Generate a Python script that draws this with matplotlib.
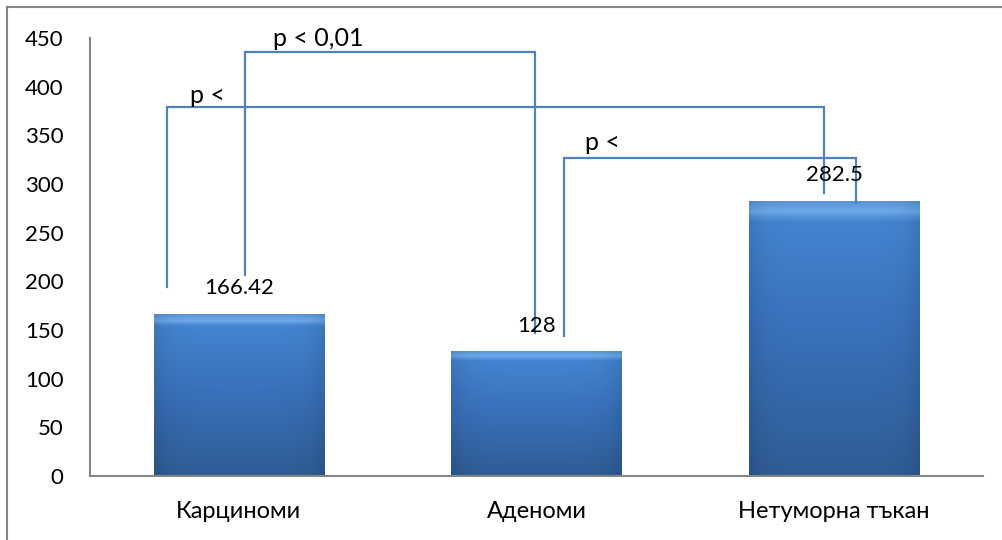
import numpy as np
import matplotlib
matplotlib.use("Agg")
import matplotlib.pyplot as plt
from matplotlib.colors import LinearSegmentedColormap
from matplotlib.lines import Line2D

plt.rcParams['font.family'] = ['Lato', 'Open Sans', 'DejaVu Sans']

# Data
categories = ["Карциноми", "Аденоми", "Нетуморна тъкан"]
values = [166.42, 128, 282.5]
value_labels = ["166.42", "128", "282.5"]
y_ticks = [0, 50, 100, 150, 200, 250, 300, 350, 400, 450]

# Significance brackets: (x_left, y_left_end, x_right, y_right_end, y_top, label, label_x, label_y)
brackets = [
    (-0.241, 194, 1.966, 291, 379, "p <", -0.107, 391),
    (0.021, 207, 0.995, 147, 435.5, "p < 0,01", 0.266, 450),
    (1.092, 144, 2.073, 280, 327, "p <", 1.223, 343),
]

W, H = 1003, 540
fig = plt.figure(figsize=(W / 100, H / 100), dpi=100)
ax = fig.add_axes([90 / W, (H - 476) / H, (983 - 90) / W, (476 - 38) / H])

axis_grey = "#868686"
line_blue = "#4f81bd"

x = np.arange(len(categories))
bar_w = 0.572
bars = ax.bar(x, values, width=bar_w, color="#3b72bb", zorder=2, linewidth=0)

ax.set_xlim(-0.5, 2.5)
ax.set_ylim(0, 450)

# Gradient fill with a light bevel along the top edge of each bar
px_per_unit = (476 - 38) / 450.0
cmap = LinearSegmentedColormap.from_list(
    "barfill", [(0.0, "#2f5c96"), (0.55, "#3a72bb"), (0.93, "#4384d0"),
                (0.965, "#6eaaeb"), (1.0, "#5a96d8")])
for rect, v in zip(bars, values):
    n = max(int(v * px_per_unit), 10)
    rows = np.linspace(0, 1, n)[:, None]
    cols = np.linspace(-1, 1, 60)[None, :]
    shade = 1 - 0.10 * np.abs(cols) ** 6
    img = cmap(rows * np.ones_like(cols))
    img[..., :3] *= shade[..., None]
    im = ax.imshow(img, extent=[rect.get_x(), rect.get_x() + rect.get_width(), 0, v],
                   origin="lower", aspect="auto", zorder=2.5, interpolation="bilinear")
    im.set_clip_path(rect)

# Value labels above bars
for xi, v, lab in zip(x, values, value_labels):
    ax.annotate(lab, (xi, v), xytext=(0, 18.5), textcoords="offset points",
                ha="center", va="center", fontsize=16, color="black", zorder=5)

# Brackets
for xl, yl, xr, yr, yt, lab, lx, ly in brackets:
    ax.plot([xl, xl, xr, xr], [yl, yt, yt, yr], color=line_blue, lw=1.6,
            zorder=4, solid_joinstyle="miter")
    ax.text(lx, ly, lab, ha="center", va="center", fontsize=18, color="black", zorder=5)

# Axes styling
for side in ("top", "right"):
    ax.spines[side].set_visible(False)
for side in ("left", "bottom"):
    ax.spines[side].set_color(axis_grey)
    ax.spines[side].set_linewidth(1.5)
ax.set_yticks(y_ticks)
ax.set_yticklabels([str(t) for t in y_ticks])
ax.set_xticks(x)
ax.set_xticklabels(categories)
ax.tick_params(axis="y", length=0, pad=19, labelsize=16)
ax.tick_params(axis="x", length=0, pad=18, labelsize=17)
ax.set_facecolor("none")

# Outer chart frame (top and left edges)
fig.add_artist(Line2D([7 / W, 7 / W], [0, (H - 7) / H], transform=fig.transFigure,
                      color=axis_grey, lw=1.5))
fig.add_artist(Line2D([7 / W, 1], [(H - 7) / H, (H - 7) / H], transform=fig.transFigure,
                      color=axis_grey, lw=1.5))

fig.savefig("out.png", dpi=100)
